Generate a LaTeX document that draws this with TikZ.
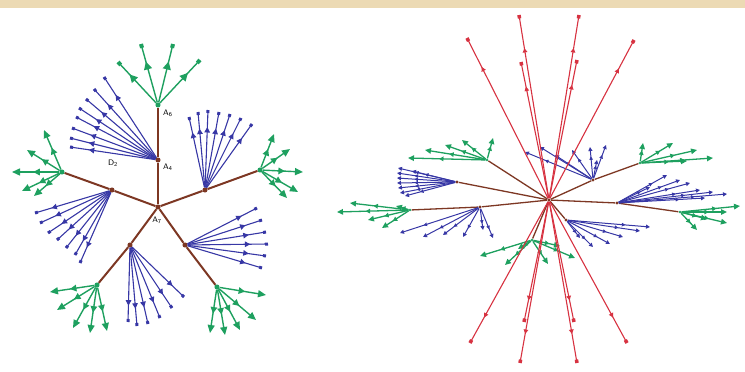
\documentclass[tikz,border=0pt]{standalone}
\usepackage{tikz}
\usetikzlibrary{arrows.meta,positioning,decorations.markings}
\usepackage{xcolor}
\definecolor{brn}{RGB}{125,55,35}
\definecolor{grn}{RGB}{30,160,95}
\definecolor{blu}{RGB}{55,55,165}
\definecolor{rd}{RGB}{215,50,65}
\definecolor{parch}{RGB}{236,218,180}

% one fan of leaf edges out of a hub node
\newcommand{\leaffan}[3]{%
  \foreach \lx/\ly [count=\i] in {#3} {
    \coordinate (#1-l\i) at (\lx,\ly);
    \draw[#2] (#1) -- (#1-l\i);
  }}

\begin{document}
\begin{tikzpicture}[
  x=1pt, y=-1pt,
  branch/.style={brn, line width=2pt},
  thinbranch/.style={brn, line width=1.3pt},
  hub/.style={circle, fill=brn, inner sep=1.8pt},
  lbl/.style={font=\sffamily\fontsize{8}{9}\selectfont, inner sep=1pt},
  midtip/.style 2 args={postaction={decorate}, decoration={markings, mark=at position #1 with {\arrow{Triangle[length=#2,width=#2]}}}},
  gleaf/.style={grn, line width=1.4pt, -{Triangle[length=8pt,width=7pt]}, midtip={.55}{6.5pt}},
  gleafsq/.style={grn, line width=1.4pt, -{Square[length=4pt,width=4pt]}, midtip={.7}{8pt}},
  bleaf/.style={blu, line width=1.1pt, -{Square[length=3pt,width=3pt]}, midtip={.78}{5.5pt}},
  gsmall/.style={grn, line width=1.3pt, -{Triangle[length=6pt,width=5.5pt]}, midtip={.6}{4.5pt}},
  bsmall/.style={blu, line width=1pt, -{Triangle[length=4pt,width=4pt]}, midtip={.7}{3.5pt}},
  ray/.style={rd, line width=1.1pt, -{Square[length=3.5pt,width=3.5pt]}, midtip={.82}{4.5pt}},
]
  \useasboundingbox (0,0) rectangle (745,372);
  \fill[parch] (0,0) rectangle (745,8);

  % left: flat radial tree
  \node[hub] (a0) at (158,207) {};
  \node[hub] (a4) at (158,160) {};
  \node[hub, fill=grn] (a8) at (158,105) {};
  \node[hub] (b) at (205,190) {};
  \node[hub, fill=grn] (gb) at (260,170) {};
  \node[hub] (c) at (185,245) {};
  \node[hub, fill=grn] (gc) at (217,287) {};
  \node[hub] (d) at (130,245) {};
  \node[hub, fill=grn] (gd) at (97,285) {};
  \node[hub] (e) at (112,190) {};
  \node[hub, fill=grn] (ge) at (62,172) {};

  \draw[branch] (a0) -- (a4);
  \draw[branch] (a4) -- (a8);
  \draw[branch] (a0) -- (b);
  \draw[branch] (b) -- (gb);
  \draw[branch] (a0) -- (c);
  \draw[branch] (c) -- (gc);
  \draw[branch] (a0) -- (d);
  \draw[branch] (d) -- (gd);
  \draw[branch] (a0) -- (e);
  \draw[branch] (e) -- (ge);

  \leaffan{a4}{bleaf}{104/77,94/89,86/99,79/108,76/117,72/128,70/138,70/147}
  \leaffan{a8}{gleafsq}{118/62,141/44,173/44,200/60}
  \leaffan{b}{bleaf}{189/117,198/112,208/110,219/112,230/114,241/118,252/124}
  \leaffan{gb}{gleaf}{274/134,290/149,303/172,298/192,287/198}
  \leaffan{c}{bleaf}{257/208,262/220,266/232,268/244,266/256,262/268}
  \leaffan{gc}{gleaf}{210/333,225/335,240/330,256/320,266/295}
  \leaffan{d}{bleaf}{128/322,137/326,148/324,160/318,172/308,184/297}
  \leaffan{gd}{gleaf}{50/292,57/310,73/328,90/333,107/331}
  \leaffan{e}{bleaf}{35/213,40/223,48/233,57/240,66/248,75/255,80/263}
  \leaffan{ge}{gleaf}{44/130,27/150,12/172,22/191,34/196}

  \node[lbl, anchor=west] (la8) at (162,113) {A\textsubscript{6}};
  \node[lbl, anchor=west] (la4) at (162,167) {A\textsubscript{4}};
  \node[lbl, anchor=north] (la0) at (157,216) {A\textsubscript{7}};
  \node[lbl] (ld2) at (113,163) {D\textsubscript{2}};

  % right: the same tree seen edge-on
  \node[hub, inner sep=1.2pt] (o) at (549,200) {};
  \node[hub, inner sep=1.2pt] (bu) at (593,180) {};
  \node[hub, inner sep=1pt, fill=grn] (gur) at (640,163) {};
  \node[hub, inner sep=1.2pt] (br) at (617,203) {};
  \node[hub, inner sep=1pt, fill=grn] (gr) at (680,212) {};
  \node[hub, inner sep=1.2pt] (bll) at (480,207) {};
  \node[hub, inner sep=1pt, fill=grn] (gl) at (410,210) {};
  \node[hub, inner sep=1.2pt] (bl) at (457,182) {};
  \node[hub, inner sep=1pt, fill=grn] (gul) at (487,160) {};
  \node[hub, inner sep=1.2pt] (blr) at (566,220) {};
  \node[hub, inner sep=1pt, fill=grn] (gbot) at (532,240) {};

  \draw[thinbranch] (o) -- (bu);
  \draw[thinbranch] (bu) -- (gur);
  \draw[thinbranch] (o) -- (br);
  \draw[thinbranch] (br) -- (gr);
  \draw[thinbranch] (o) -- (bll);
  \draw[thinbranch] (bll) -- (gl);
  \draw[thinbranch] (o) -- (bl);
  \draw[thinbranch] (o) -- (gul);
  \draw[thinbranch] (o) -- (blr);
  \draw[thinbranch] (o) -- (gbot);

  \leaffan{bu}{bsmall}{525/152,540/147,555/155,572/150,590/147,606/145,597/160}
  \leaffan{gur}{gsmall}{643/143,673/143,697/150,713/158,687/161}
  \leaffan{br}{bsmall}{650/187,667/175,680/180,690/183,700/190,713/192,727/194,705/198}
  \leaffan{gr}{gsmall}{740/206,727/212,707/219,697/230,727/223}
  \leaffan{bll}{bsmall}{400/233,423/237,443/235,463/237,483/230,493/238}
  \leaffan{gl}{gsmall}{337/212,350/203,368/220,382/228,396/206}
  \leaffan{bl}{bsmall}{398/168,397/173,397/178,397/183,398/188,400/193,405/196,412/171}
  \leaffan{gul}{gsmall}{408/158,425/150,445/145,462/140,493/138}
  \leaffan{blr}{bsmall}{650/227,640/231,623/237,593/247,580/238,610/244}
  \leaffan{gbot}{gsmall}{480/256,505/265,518/249,548/264,575/258,560/246}

  \leaffan{o}{ray}{467/38,519/15,521/62,579/15,577/60,634/40,470/343,520/363,524/322,577/363,574/322,627/343}
\end{tikzpicture}
\end{document}
